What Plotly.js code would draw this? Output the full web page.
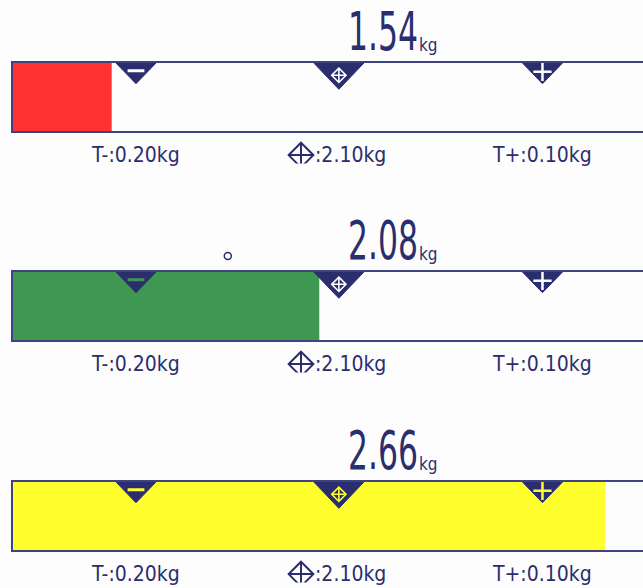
<!DOCTYPE html>
<html>
<head>
<meta charset="utf-8">
<script src="https://cdn.plot.ly/plotly-3.0.1.min.js"></script>
<style>
  html, body { margin: 0; padding: 0; background: #fdfdfd; }
  #chart { width: 643px; height: 588px; }
</style>
</head>
<body>
<div id="chart"></div>
<script>
// ---- data ----
const weights      = ['1.54', '2.08', '2.66'];          // displayed net weight, kg
const unitLabel    = 'kg';
const barFill      = [15.8, 48.7, 94.0];                // bar length, % of display scale
const fillColors   = ['#ff3131', '#3e9851', '#ffff2e']; // under / ok / over
const motionShown  = [false, true, false];               // little "o" indicator
const markerNames  = ['T-', 'target', 'T+'];
const markerPos    = [19.65, 51.8, 84.07];              // marker positions, % of display scale
const markerLabels = ['T-:0.20kg', ':2.10kg', 'T+:0.10kg'];

// ---- styles ----
const NAVY = '#2b2e6e';
const BORDER = '#3f4280';
const FONT = 'DejaVu Sans Condensed, DejaVu Sans, sans-serif';
const yDomains = [[0.72194, 0.93622], [0.36650, 0.58078], [0.00935, 0.22364]];
const yRange = [-0.45, 1.35];
const yIds = ['y', 'y2', 'y3'];
const yLayoutKeys = ['yaxis', 'yaxis2', 'yaxis3'];

const traces = [];
const shapes = [];
const annotations = [];
const digitAnnIdx = [];

weights.forEach((w, i) => {
  const yid = yIds[i];
  traces.push({
    type: 'bar', orientation: 'h',
    x: [barFill[i]], y: [0.5], base: [0], width: [1],
    xaxis: 'x', yaxis: yid,
    marker: { color: fillColors[i], line: { width: 0 } },
    hoverinfo: 'skip', showlegend: false
  });
  shapes.push({
    type: 'rect', xref: 'x', yref: yid,
    x0: 0, x1: 120, y0: 0, y1: 1,
    line: { color: BORDER, width: 2 }, layer: 'above'
  });
  markerNames.forEach((name, j) => {
    const big = name === 'target';
    const hw = big ? 4.12 : 3.33;
    const h = big ? 0.39 : 0.31;
    const p = markerPos[j];
    traces.push({
      type: 'scatter', mode: 'lines',
      x: [p - hw, p + hw, p, p - hw], y: [1, 1, 1 - h, 1],
      xaxis: 'x', yaxis: yid, fill: 'toself', fillcolor: NAVY,
      line: { color: NAVY, width: 1 },
      hoverinfo: 'skip', showlegend: false
    });
    const inner = p < barFill[i] ? fillColors[i] : '#ffffff';
    let sym, size, lw, yy;
    if (name === 'T-') { sym = 'line-ew'; size = 12; lw = 3; yy = 0.875; }
    else if (name === 'T+') { sym = 'cross-thin'; size = 13; lw = 2.5; yy = 0.86; }
    else { sym = 'diamond-cross-open'; size = 11; lw = 1.6; yy = 0.81; }
    traces.push({
      type: 'scatter', mode: 'markers', x: [p], y: [yy],
      xaxis: 'x', yaxis: yid,
      marker: { symbol: sym, size: size, color: inner, line: { color: inner, width: lw } },
      hoverinfo: 'skip', showlegend: false
    });
    if (big) {
      traces.push({
        type: 'scatter', mode: 'markers', x: [p - 6.0], y: [-0.33],
        xaxis: 'x', yaxis: yid,
        marker: { symbol: 'diamond-cross-open', size: 19, color: NAVY, line: { color: NAVY, width: 2 } },
        hoverinfo: 'skip', showlegend: false
      });
      annotations.push({
        text: markerLabels[j], x: p, xref: 'x', y: 0, yref: yid,
        xanchor: 'left', xshift: -26, yanchor: 'middle', yshift: -23,
        showarrow: false, font: { family: FONT, size: 21, color: NAVY }
      });
    } else {
      annotations.push({
        text: markerLabels[j], x: p, xref: 'x', y: 0, yref: yid,
        xanchor: 'center', yanchor: 'middle', yshift: -23,
        showarrow: false, font: { family: FONT, size: 21, color: NAVY }
      });
    }
  });
  // weight reading: digits + unit
  digitAnnIdx.push(annotations.length);
  annotations.push({
    text: w, x: 64.7, xref: 'x', y: 1, yref: yid,
    xanchor: 'right', yanchor: 'bottom', yshift: -1.8,
    showarrow: false, font: { family: FONT, size: 53, color: NAVY }
  });
  annotations.push({
    text: unitLabel, x: 64.2, xref: 'x', y: 1, yref: yid,
    xanchor: 'left', yanchor: 'bottom', yshift: 5.2,
    showarrow: false, font: { family: FONT, size: 17, color: NAVY }
  });
  if (motionShown[i]) {
    traces.push({
      type: 'scatter', mode: 'markers', x: [34.2], y: [1.214],
      xaxis: 'x', yaxis: yid,
      marker: { symbol: 'circle-open', size: 7, color: NAVY, line: { color: NAVY, width: 1.5 } },
      hoverinfo: 'skip', showlegend: false
    });
  }
});

const layout = {
  width: 643, height: 588,
  margin: { l: 10, r: 0, t: 0, b: 0 },
  paper_bgcolor: '#fdfdfd', plot_bgcolor: '#fdfdfd',
  showlegend: false, barmode: 'overlay',
  xaxis: { range: [-0.317, 100], visible: false, fixedrange: true, anchor: 'y3' },
  shapes: shapes, annotations: annotations
};
yLayoutKeys.forEach((k, i) => {
  layout[k] = { domain: yDomains[i], range: yRange, visible: false, fixedrange: true, anchor: 'x' };
});

Plotly.newPlot('chart', traces, layout, { displayModeBar: false, staticPlot: true }).then(() => {
  // narrow the big LCD-style digits horizontally, keeping their right edge fixed
  const SX = 0.66;
  digitAnnIdx.forEach(k => {
    const t = document.querySelector('#chart .annotation[data-index="' + k + '"] text.annotation-text');
    if (!t) return;
    const bb = t.getBBox();
    const cx = bb.x + bb.width;
    const prev = t.getAttribute('transform') || '';
    t.setAttribute('transform', 'translate(' + cx + ',0) scale(' + SX + ',1) translate(' + (-cx) + ',0) ' + prev);
  });
});
</script>
</body>
</html>
